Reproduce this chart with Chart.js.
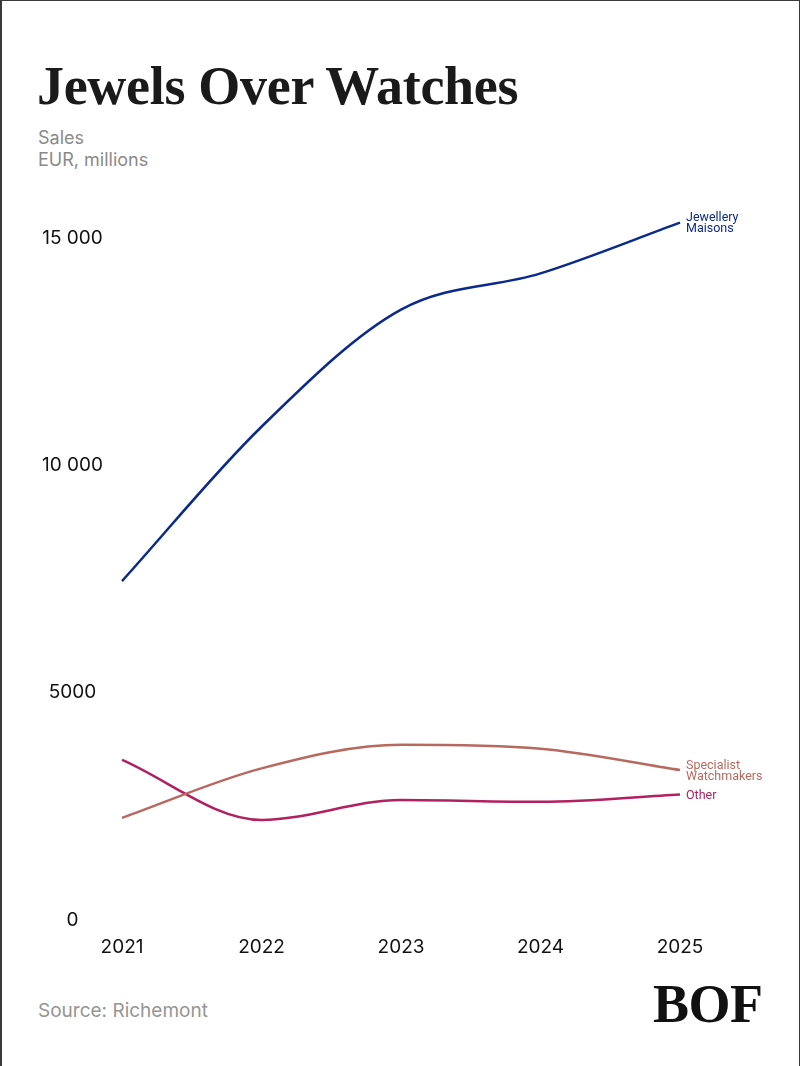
<!DOCTYPE html>
<html>
<head>
<meta charset="utf-8">
<script src="https://cdn.jsdelivr.net/npm/chart.js@4.4.1/dist/chart.umd.min.js"></script>
<style>
  html, body { margin: 0; padding: 0; background: #fff; }
  #page { position: relative; width: 800px; height: 1066px; box-sizing: border-box;
          border-left: 2px solid #3a3a3a; border-top: 1px solid #3a3a3a; border-right: 1px solid #3a3a3a;
          overflow: hidden; font-family: Inter, Roboto, "Noto Sans", sans-serif; }
  #title { position: absolute; left: 35px; top: 55px; margin: 0; font-family: "Liberation Serif", "DejaVu Serif", serif;
           font-weight: bold; font-size: 54px; color: #1a1a1a; letter-spacing: -0.3px; line-height: 60px; white-space: nowrap; }
  #sub { position: absolute; left: 36px; top: 126px; font-size: 18px; line-height: 22px; color: #8a8a8a; }
  #source { position: absolute; left: 36px; top: 998px; font-size: 19px; color: #959595; }
  #logo { position: absolute; left: 651px; top: 975px; font-family: "Liberation Serif", serif; font-weight: bold;
          font-size: 54px; line-height: 56px; color: #111; letter-spacing: -0.5px; }
  #wrap { position: absolute; left: -2px; top: 179px; width: 800px; height: 800px; }
</style>
</head>
<body>
<div id="page">
  <div id="title">Jewels Over Watches</div>
  <div id="sub">Sales<br>EUR, millions</div>
  <div id="wrap"><canvas id="c" width="800" height="800"></canvas></div>
  <div id="source">Source: Richemont</div>
  <div id="logo">BOF</div>
</div>
<script>
const years = ['2021', '2022', '2023', '2024', '2025'];
const jewelleryMaisons = [7454, 10850, 13427, 14223, 15340];
const specialistWatchmakers = [2245, 3335, 3854, 3765, 3297];
const other = [3520, 2200, 2640, 2600, 2760];
const yTicks = [0, 5000, 10000, 15000];
const seriesNames = [['Jewellery', 'Maisons'], ['Specialist', 'Watchmakers'], ['Other']];
const seriesColors = ['#0b2a8c', '#b8695f', '#b2215f'];

function fmt(v) {
  if (v >= 10000) return String(v).replace(/\B(?=(\d{3})+(?!\d))/g, ' ');
  return String(v);
}

const endLabels = {
  id: 'endLabels',
  afterDatasetsDraw(chart) {
    const ctx = chart.ctx;
    ctx.save();
    ctx.font = '12.5px Roboto, "Noto Sans", sans-serif';
    ctx.textBaseline = 'middle';
    ctx.textAlign = 'left';
    chart.data.datasets.forEach((ds, i) => {
      const meta = chart.getDatasetMeta(i);
      const pt = meta.data[meta.data.length - 1];
      const lines = seriesNames[i];
      const lh = 11;
      ctx.fillStyle = seriesColors[i];
      lines.forEach((t, k) => {
        ctx.fillText(t, pt.x + 6, pt.y + 1 + (k - (lines.length - 1) / 2) * lh);
      });
    });
    ctx.restore();
  }
};

const tickFont = { size: 19, family: 'Inter, Roboto, "Noto Sans", sans-serif' };

new Chart(document.getElementById('c'), {
  type: 'line',
  data: {
    labels: years,
    datasets: [
      { data: jewelleryMaisons, borderColor: seriesColors[0] },
      { data: specialistWatchmakers, borderColor: seriesColors[1] },
      { data: other, borderColor: seriesColors[2] }
    ].map(d => Object.assign(d, { borderWidth: 2.5, pointRadius: 0, cubicInterpolationMode: 'monotone', fill: false }))
  },
  options: {
    responsive: false,
    animation: false,
    devicePixelRatio: 1,
    layout: { padding: { left: 20, right: 120, top: 12.6, bottom: 20 } },
    plugins: { legend: { display: false }, tooltip: { enabled: false } },
    scales: {
      x: {
        offset: false,
        grid: { display: false, drawTicks: false },
        border: { display: false },
        ticks: { color: '#111', font: tickFont, padding: 16, maxRotation: 0 },
        afterFit(s) { s.height = 40; s.paddingLeft = 0; s.paddingRight = 0; }
      },
      y: {
        min: 0, max: 16000,
        grid: { display: false, drawTicks: false },
        border: { display: false },
        afterBuildTicks(s) { s.ticks = yTicks.map(v => ({ value: v })); },
        ticks: { color: '#111', font: tickFont, padding: 19,
                 crossAlign: 'center', callback: v => fmt(v) },
        afterFit(s) { s.width = 102; s.paddingTop = 0; s.paddingBottom = 0; }
      }
    }
  },
  plugins: [endLabels]
});
</script>
</body>
</html>
